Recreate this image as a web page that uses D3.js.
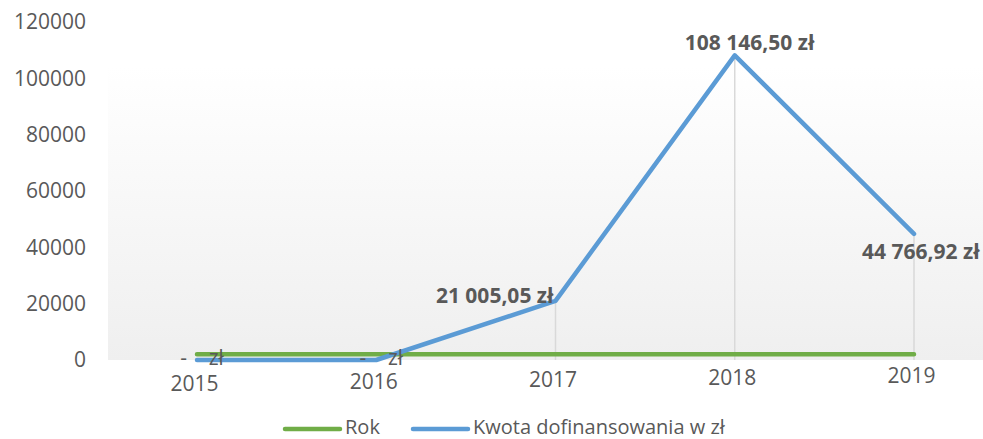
<!DOCTYPE html>
<html>
<head>
<meta charset="utf-8">
<script src="https://cdn.jsdelivr.net/npm/d3@7"></script>
<style>
  body { margin: 0; background: #fff; }
  svg text { font-family: "Open Sans", sans-serif; fill: #595959; }
</style>
</head>
<body>
<svg id="chart" width="983" height="439"></svg>
<script>
const years = ["2015", "2016", "2017", "2018", "2019"];
const rokValues = [2015, 2016, 2017, 2018, 2019];
const kwotaValues = [0, 0, 21005.05, 108146.50, 44766.92];
const kwotaLabels = ["-    zł", "-    zł", "21 005,05 zł", "108 146,50 zł", "44 766,92 zł"];
const yTicks = [0, 20000, 40000, 60000, 80000, 100000, 120000];
const seriesNames = ["Rok", "Kwota dofinansowania w zł"];
const seriesColors = ["#70ad47", "#5b9bd5"];

const svg = d3.select("#chart");

const x = d3.scalePoint()
            .domain(years)
            .range([197, 914]);

const y = d3.scaleLinear()
            .domain([0, 120000])
            .range([360, 22]);

// plot background, light gradient
const defs = svg.append("defs");
const grad = defs.append("linearGradient")
                 .attr("id", "bg")
                 .attr("x1", 0).attr("y1", 0)
                 .attr("x2", 0).attr("y2", 1);
grad.append("stop").attr("offset", "0%").attr("stop-color", "#ffffff");
grad.append("stop").attr("offset", "100%").attr("stop-color", "#efefef");

svg.append("rect")
   .attr("x", 108)
   .attr("y", 66)
   .attr("width", 983 - 108)
   .attr("height", y(0) - 66)
   .attr("fill", "url(#bg)");

// y axis labels
const yAxis = d3.axisLeft(y)
                .tickValues(yTicks)
                .tickSize(0)
                .tickPadding(0)
                .tickFormat(d3.format("d"));

svg.append("g")
   .attr("transform", "translate(86,0)")
   .call(yAxis)
   .call(g => g.select(".domain").remove())
   .selectAll("text")
   .attr("font-size", "21px")
   .attr("font-family", null)
   .attr("fill", "#595959");

// x axis labels (slightly drifting upward like the original)
const xAxis = d3.axisBottom(x)
                .tickSize(0)
                .tickPadding(0);

svg.append("g")
   .attr("transform", "translate(-3," + y(0) + ")")
   .call(xAxis)
   .call(g => g.select(".domain").remove())
   .selectAll("text")
   .attr("font-size", "21px")
   .attr("font-family", null)
   .attr("fill", "#595959")
   .attr("y", 0)
   .attr("dy", (d, i) => (31 - 2 * i) + "px");

// drop lines
svg.append("g")
   .selectAll("line")
   .data(years)
   .enter()
   .append("line")
   .attr("x1", d => x(d))
   .attr("x2", d => x(d))
   .attr("y1", (d, i) => y(kwotaValues[i]))
   .attr("y2", y(0))
   .attr("stroke", "#d9d9d9")
   .attr("stroke-width", 1.5);

const line = d3.line()
               .x(d => x(d.year))
               .y(d => y(d.value));

const rokData = years.map((d, i) => ({ year: d, value: rokValues[i] }));
const kwotaData = years.map((d, i) => ({ year: d, value: kwotaValues[i] }));

svg.append("path")
   .datum(rokData)
   .attr("d", line)
   .attr("fill", "none")
   .attr("stroke", seriesColors[0])
   .attr("stroke-width", 4.5)
   .attr("stroke-linecap", "round")
   .attr("stroke-linejoin", "round");

svg.append("path")
   .datum(kwotaData)
   .attr("d", line)
   .attr("fill", "none")
   .attr("stroke", seriesColors[1])
   .attr("stroke-width", 4.5)
   .attr("stroke-linecap", "round")
   .attr("stroke-linejoin", "round");

// data labels
svg.append("g")
   .selectAll("text")
   .data(kwotaData)
   .enter()
   .append("text")
   .attr("xml:space", "preserve")
   .style("white-space", "pre")
   .attr("font-size", "21px")
   .attr("font-weight", (d, i) => kwotaValues[i] === 0 ? "normal" : "bold")
   .attr("text-anchor", (d, i) => {
     if (kwotaValues[i] === 0) return "middle";
     if (i === 2) return "end";
     return "start";
   })
   .attr("x", (d, i) => {
     if (kwotaValues[i] === 0) return x(d.year) + 5;
     if (i === 2) return x(d.year) - 2;
     if (i === 3) return x(d.year) - 50;
     return x(d.year) - 52;
   })
   .attr("y", (d, i) => {
     if (kwotaValues[i] === 0) return y(d.value) + 5;
     if (i === 2) return y(d.value) + 2;
     if (i === 3) return y(d.value) - 5;
     return y(d.value) + 25;
   })
   .text((d, i) => kwotaLabels[i]);

// legend
const legend = svg.append("g");
const legendX = [285, 413];
seriesNames.forEach((name, i) => {
  legend.append("line")
        .attr("x1", legendX[i])
        .attr("x2", legendX[i] + 55)
        .attr("y1", 429)
        .attr("y2", 429)
        .attr("stroke", seriesColors[i])
        .attr("stroke-width", 4.5)
        .attr("stroke-linecap", "round");
  legend.append("text")
        .attr("x", legendX[i] + 60)
        .attr("y", 434)
        .attr("font-size", "20px")
        .text(name);
});
</script>
</body>
</html>
